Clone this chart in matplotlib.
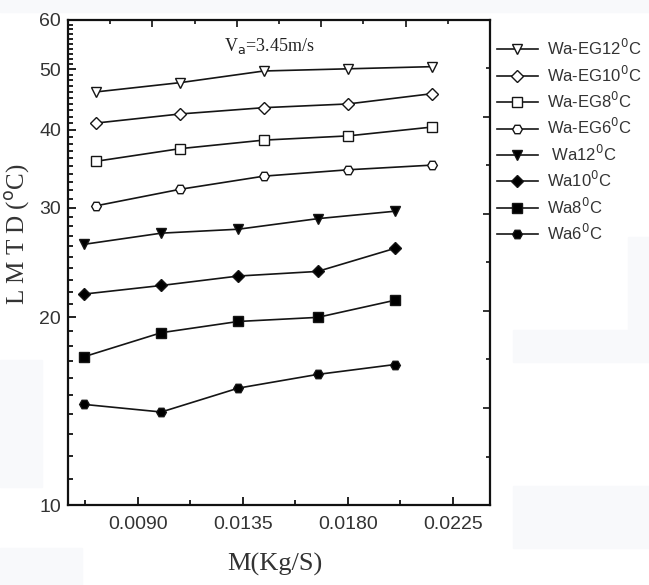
import matplotlib.pyplot as plt
from matplotlib.patches import Rectangle

plt.rcParams["font.family"] = "Liberation Sans"

# mass flow rates (kg/s)
m_wa = [0.0067, 0.0100, 0.0133, 0.0167, 0.0200]
m_eg = [0.0072, 0.0108, 0.0144, 0.0180, 0.0216]

# LMTD values (deg C)
eg12 = [46.0, 47.6, 49.7, 50.1, 50.5]
eg10 = [41.0, 42.4, 43.4, 44.0, 45.7]
eg8 = [35.6, 37.3, 38.5, 39.1, 40.4]
eg6 = [30.2, 32.1, 33.7, 34.5, 35.1]
wa12 = [26.2, 27.3, 27.7, 28.8, 29.6]
wa10 = [21.8, 22.5, 23.3, 23.7, 25.8]
wa8 = [17.3, 18.9, 19.7, 20.0, 21.3]
wa6 = [14.5, 14.1, 15.4, 16.2, 16.8]

series = [
    (m_eg, eg12, "v", "white", "Wa-EG12$^{0}$C"),
    (m_eg, eg10, "D", "white", "Wa-EG10$^{0}$C"),
    (m_eg, eg8, "s", "white", "Wa-EG8$^{0}$C"),
    (m_eg, eg6, "H", "white", "Wa-EG6$^{0}$C"),
    (m_wa, wa12, "v", "black", " Wa12$^{0}$C"),
    (m_wa, wa10, "D", "black", "Wa10$^{0}$C"),
    (m_wa, wa8, "s", "black", "Wa8$^{0}$C"),
    (m_wa, wa6, "H", "black", "Wa6$^{0}$C"),
]

fig = plt.figure(figsize=(6.49, 5.85), dpi=100)
fig.set_facecolor("white")

# faint grey screenshot patches
bg = "#f8f9fb"
for x0, y0, w, h in [(0, 0, 649, 12), (0, 360, 42, 127), (0, 548, 82, 37),
                     (513, 330, 136, 32), (628, 237, 21, 93), (513, 486, 136, 62)]:
    fig.patches.append(Rectangle((x0 / 649, 1 - (y0 + h) / 585), w / 649, h / 585,
                                 transform=fig.transFigure, color=bg, zorder=-5))

ax = fig.add_axes([68 / 649, 80 / 585, 422 / 649, 485 / 585])

for x, y, mk, fc, lab in series:
    ms = {"v": 7, "D": 6, "s": 6.5, "H": 7}[mk]
    ax.plot(x, y, color="#151515", linewidth=1.2, marker=mk, markersize=ms,
            markerfacecolor=fc, markeredgecolor="#151515", markeredgewidth=1.0,
            label=lab)

ax.set_yscale("log")
ax.set_ylim(10, 60)
ax.set_xlim(0.0060, 0.02409)
ax.set_yticks([10, 20, 30, 40, 50, 60])
ax.set_yticklabels(["10", "20", "30", "40", "50", "60"])
ax.set_yticks([v for v in range(11, 60) if v % 10 != 0], minor=True)
ax.set_xticks([0.0090, 0.0135, 0.0180, 0.0225])
ax.set_xticklabels(["0.0090", "0.0135", "0.0180", "0.0225"])
ax.set_xticks([0.00675, 0.01125, 0.01575, 0.02025], minor=True)
ax.yaxis.set_minor_formatter(plt.NullFormatter())

ax.tick_params(axis="both", which="major", direction="in", length=6, width=1.3,
               labelsize=14, colors="#111111", labelcolor="#333333")
ax.tick_params(axis="both", which="minor", direction="in", length=3.5, width=1.3,
               colors="#111111")
ax.tick_params(axis="x", pad=8)
ax.tick_params(axis="y", pad=5)
for s in ax.spines.values():
    s.set_linewidth(1.6)
    s.set_color("#111111")

# top and right frame ticks (linear, no labels)
ax_t = ax.twiny()
ax_t.set_xlim(0, 10)
ax_t.set_xticks([2, 4, 6, 8])
ax_t.set_xticks([1, 3, 5, 7, 9], minor=True)
ax_t.tick_params(axis="x", which="both", direction="in", labeltop=False,
                 width=1.2, colors="#111111")
ax_t.tick_params(axis="x", which="major", length=5)
ax_t.tick_params(axis="x", which="minor", length=3)

ax_r = ax.twinx()
ax_r.set_ylim(0, 10)
ax_r.set_yticks([2, 4, 6, 8])
ax_r.set_yticks([1, 3, 5, 7, 9], minor=True)
ax_r.tick_params(axis="y", which="both", direction="in", labelright=False,
                 width=1.2, colors="#111111")
ax_r.tick_params(axis="y", which="major", length=5)
ax_r.tick_params(axis="y", which="minor", length=3)
for a in (ax_t, ax_r):
    for s in a.spines.values():
        s.set_visible(False)

ax.set_xlabel("M(Kg/S)", family="Liberation Serif", fontsize=19, color="#333333")
ax.xaxis.set_label_coords(0.49, -0.099)
ax.set_ylabel("L M T D ($^{\\rm o}$C)", family="Liberation Serif", fontsize=18,
              color="#333333")
ax.yaxis.set_label_coords(-0.085, 0.559)

ax.text(0.37, 0.946, "V$_{\\rm a}$=3.45m/s", transform=ax.transAxes,
        family="Liberation Serif", fontsize=13, color="#222222", ha="left", va="center")

handles, labels = ax.get_legend_handles_labels()
fig.legend(handles, labels, loc="upper left", bbox_to_anchor=(482 / 649, 1 - 23 / 585),
           frameon=False, fontsize=12, labelspacing=0.38, handlelength=2.45,
           handletextpad=0.54, labelcolor="#333333")

plt.savefig("out.png", dpi=100, facecolor="white")
